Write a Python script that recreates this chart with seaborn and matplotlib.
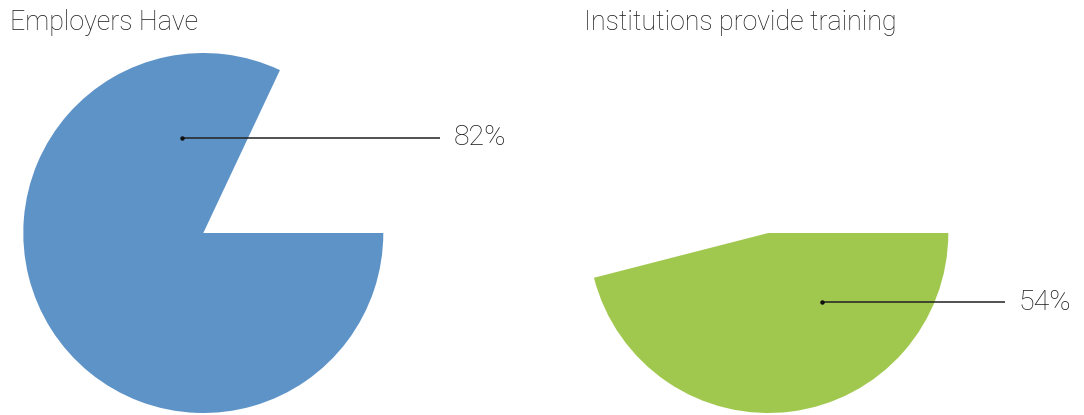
import matplotlib
matplotlib.use("Agg")
import matplotlib.pyplot as plt
from matplotlib import font_manager
import seaborn as sns

# Survey shares (percent)
titles = ["Employers Have", "Institutions provide training"]
shares = [82, 54]
fill_colors = ["#5E93C8", "#A1C84E"]
# which side of the split is filled for each pie
filled_part = ["share", "rest"]

sns.set_theme(style="white")
names = {f.name for f in font_manager.fontManager.ttflist}
family = [n for n in ["Roboto", "Lato", "Open Sans", "DejaVu Sans"] if n in names]
plt.rcParams["font.family"] = family

W, H = 1084, 415
fig = plt.figure(figsize=(W / 100, H / 100), dpi=100)

R = 180.0
centers = [(203.3, 233.0), (768.3, 233.0)]
title_x = [10, 584]
# label anchor offsets in units of the radius (x right, y up)
anchors = [(-0.117, 0.53), (0.30, -0.385)]

for i in range(2):
    cx, cy = centers[i]
    ax = fig.add_axes([(cx - R) / W, (H - cy - R) / H, 2 * R / W, 2 * R / H])
    share = shares[i]
    rest = 100 - share
    if filled_part[i] == "share":
        vals = [share, rest]
    else:
        vals = [rest, share]
    cols = [fill_colors[i], "none"]
    ax.pie(vals, colors=cols, startangle=0, counterclock=False, radius=1.0,
           wedgeprops=dict(linewidth=0, edgecolor="none"))
    ax.set_xlim(-1, 1)
    ax.set_ylim(-1, 1)
    ax.set_aspect("equal")
    ax.axis("off")

    ax0, ay0 = anchors[i]
    ax.plot([ax0, 1.317], [ay0, ay0], color="#222222", lw=1.1,
            solid_capstyle="butt", clip_on=False)
    ax.plot([ax0], [ay0], marker="o", ms=2.2, color="#111111", clip_on=False)
    ax.text(1.388, ay0, f"{share}%", ha="left", va="center", fontsize=20.5,
            fontweight="light", color="#1a1a1a", clip_on=False)

    fig.text(title_x[i] / W, 1 - 30 / H, titles[i], ha="left", va="baseline",
             fontsize=19.3, fontweight="light", color="#1a1a1a")

fig.savefig("out.png", dpi=100, facecolor="white")
